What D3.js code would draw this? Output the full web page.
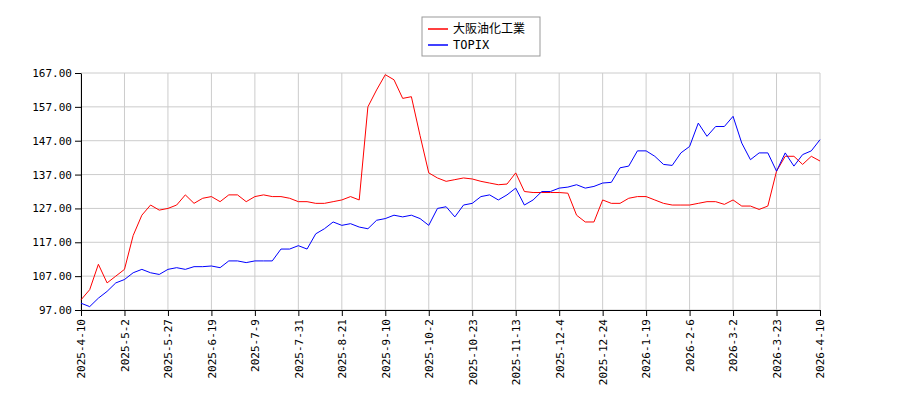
<!DOCTYPE html>
<html>
<head>
<meta charset="utf-8">
<script src="https://cdn.jsdelivr.net/npm/d3@7"></script>
<style>
  body { margin: 0; background: #fff; }
  text { font-family: "DejaVu Sans Mono", monospace; font-size: 11px; }
</style>
</head>
<body>
<div id="chart"></div>
<script>
// tick labels, one every 5 samples
var tickLabels = ["2025-4-10", "2025-5-2", "2025-5-27", "2025-6-19", "2025-7-9", "2025-7-31",
  "2025-8-21", "2025-9-10", "2025-10-2", "2025-10-23", "2025-11-13", "2025-12-4",
  "2025-12-24", "2026-1-19", "2026-2-6", "2026-3-2", "2026-3-23", "2026-4-10"];
var yTicks = [97, 107, 117, 127, 137, 147, 157, 167];
var seriesNames = ["大阪油化工業", "TOPIX"];

var osakaValues = [100, 103, 110.5, 105, 107, 109, 119, 125, 128, 126.5,
  127, 128, 131, 128.5, 130, 130.5, 129, 131, 131, 129,
  130.5, 131, 130.5, 130.5, 130, 129, 129, 128.5, 128.5, 129,
  129.5, 130.5, 129.5, 157, 162, 166.5, 165, 159.5, 160, 148.5,
  137.5, 136, 135, 135.5, 136, 135.7, 135, 134.5, 134, 134.2,
  137.5, 132, 131.7, 131.7, 131.7, 131.7, 131.5, 125, 123, 123,
  129.5, 128.5, 128.5, 130, 130.5, 130.5, 129.5, 128.5, 128, 128,
  128, 128.5, 129, 129, 128.2, 129.5, 127.7, 127.7, 126.7, 127.7,
  138, 142.4, 142.4, 140, 142.4, 141];
var topixValues = [99, 98, 100.5, 102.5, 105, 106, 108, 109, 108, 107.5,
  109, 109.5, 109, 109.8, 109.8, 110, 109.5, 111.5, 111.5, 111,
  111.5, 111.5, 111.5, 115, 115, 116, 115, 119.5, 121, 123,
  122, 122.5, 121.5, 121, 123.5, 124, 125, 124.5, 125, 124,
  122, 127, 127.5, 124.5, 128, 128.5, 130.5, 131, 129.5, 131,
  133, 128, 129.5, 132, 132, 133, 133.3, 134, 133, 133.5,
  134.5, 134.7, 139, 139.5, 144, 144, 142.4, 140, 139.7, 143.4,
  145.3, 152.2, 148.3, 151.2, 151.2, 154.2, 146.3, 141.4, 143.4, 143.4,
  138, 143.4, 139.5, 142.9, 144, 147.3];
var colors = ["#ff0000", "#0000ff"];

var W = 900, H = 400;
var margin = { left: 81, right: 80, top: 73, bottom: 90 };
var svg = d3.select("#chart").append("svg").attr("width", W).attr("height", H);

var x = d3.scaleLinear().domain([0, osakaValues.length - 1]).range([margin.left, W - margin.right]);
var y = d3.scaleLinear().domain([97, 167]).range([H - margin.bottom, margin.top]);
var tickIdx = tickLabels.map(function (d, i) { return i * 5; });

// grid
svg.append("g").selectAll("line").data(tickIdx).enter().append("line")
  .attr("x1", function (d) { return x(d); }).attr("x2", function (d) { return x(d); })
  .attr("y1", margin.top).attr("y2", H - margin.bottom)
  .style("stroke", "#cccccc");
svg.append("g").selectAll("line").data(yTicks).enter().append("line")
  .attr("x1", margin.left).attr("x2", W - margin.right)
  .attr("y1", function (d) { return y(d); }).attr("y2", function (d) { return y(d); })
  .style("stroke", "#cccccc");

// axes
svg.append("g")
  .attr("transform", "translate(" + margin.left + ",0)")
  .call(d3.axisLeft(y).tickValues(yTicks).tickFormat(d3.format(".2f")).tickSizeOuter(0))
  .selectAll("text").style("font-family", "DejaVu Sans Mono").style("font-size", "11px").attr("fill", "#000");
var xAxis = svg.append("g")
  .attr("transform", "translate(0," + (H - margin.bottom) + ")")
  .call(d3.axisBottom(x).tickValues(tickIdx).tickFormat(function (d, i) { return tickLabels[i]; }).tickSizeOuter(0));
xAxis.selectAll("text")
  .style("font-family", "DejaVu Sans Mono").style("font-size", "11px").attr("fill", "#000")
  .attr("transform", "rotate(-90)")
  .attr("text-anchor", "end")
  .attr("x", -9).attr("y", 0).attr("dy", "0.35em");

// lines
var line = d3.line()
  .x(function (d, i) { return x(i); })
  .y(function (d) { return y(d); });
[osakaValues, topixValues].forEach(function (vals, i) {
  svg.append("path").datum(vals)
    .attr("d", line)
    .style("fill", "none")
    .style("stroke", colors[i])
    .style("stroke-width", 1);
});

// legend
var lg = svg.append("g").attr("transform", "translate(422,17)");
lg.append("rect").attr("width", 118).attr("height", 39)
  .style("fill", "#fff").style("stroke", "#999");
seriesNames.forEach(function (n, i) {
  lg.append("line").attr("x1", 6).attr("x2", 26)
    .attr("y1", 12 + i * 16).attr("y2", 12 + i * 16)
    .style("stroke", colors[i]).style("stroke-width", 1.5);
  lg.append("text").attr("x", 31).attr("y", 12 + i * 16).attr("dy", "0.35em")
    .style("font-family", "'DejaVu Sans Mono', 'Noto Sans CJK JP'")
    .style("font-size", "12px")
    .text(n);
});
</script>
</body>
</html>
